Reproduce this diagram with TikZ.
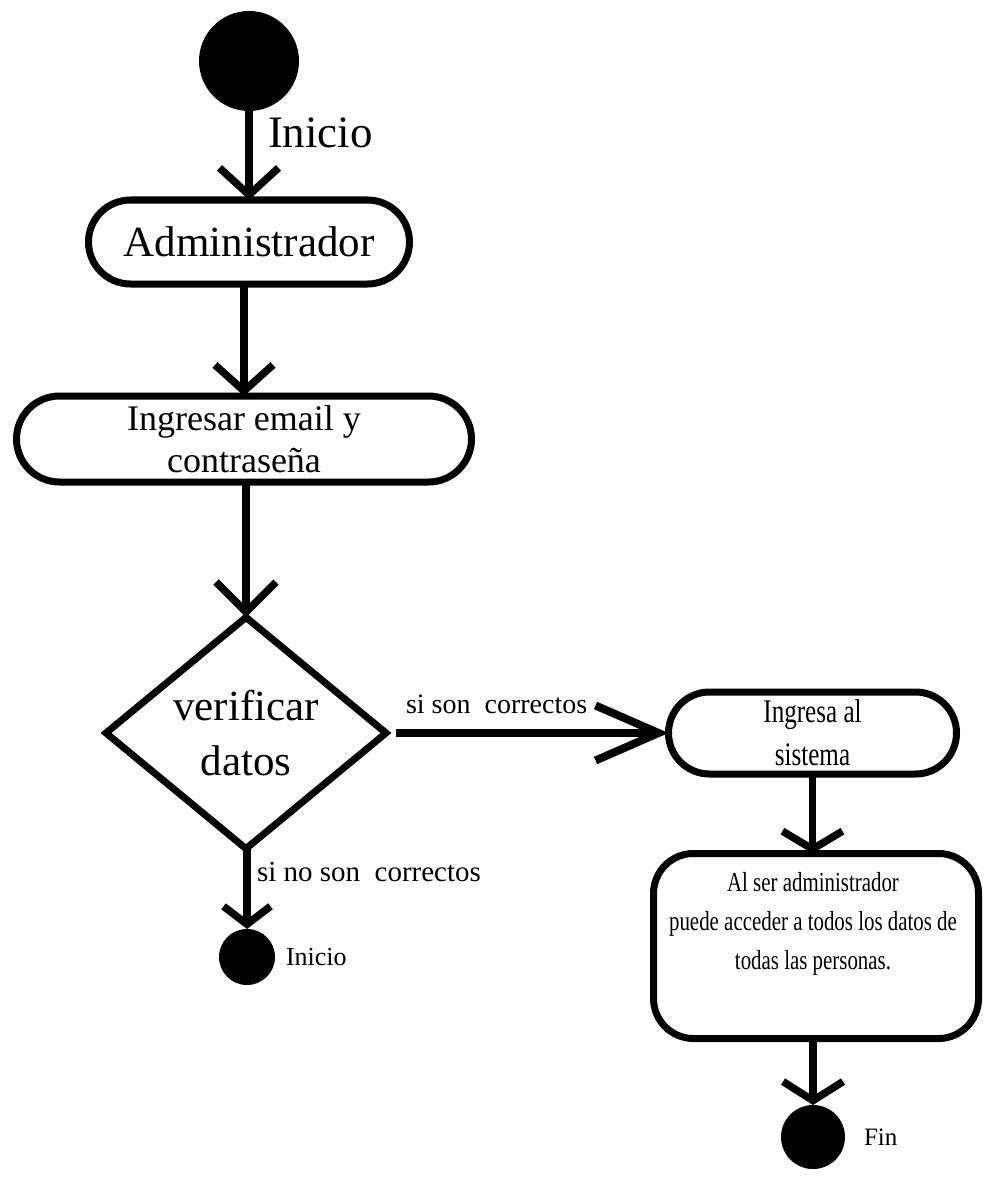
\documentclass[tikz,border=0pt]{standalone}
\usepackage{fontspec}
\setmainfont{Liberation Serif}
\newfontfamily\narrowserif[FakeStretch=0.76]{Liberation Serif}
\usetikzlibrary{shapes.geometric,arrows.meta}
\newcommand{\fsz}[1]{\fontsize{#1}{1.2\dimexpr#1pt\relax}\selectfont}
\begin{document}
\begin{tikzpicture}[x=1pt,y=-1pt,
  every node/.style={inner sep=0pt, outer sep=0pt, text=black},
  dot/.style={circle, fill=black, draw=none, minimum size=#1},
  activity/.style={draw=black, fill=white, line width=7pt, rounded corners=#1, align=center},
  decision/.style={diamond, draw=black, fill=white, line width=7pt, align=center},
  flow/.style args={#1/#2}{draw=black, line width=7.5pt, -{Straight Barb[length=#1, width=#2]}},
  lbl/.style={anchor=west, font=\fsz{#1}}
]
  % page
  \fill[white] (0,0) rectangle (987,1177);
  \useasboundingbox (0,0) rectangle (987,1177);

  % left column
  \node[dot=100pt] (start) at (249,61) {};
  \node[activity=42pt, minimum width=321pt, minimum height=84pt,
        font=\fsz{43}] (admin) at (249,242) {Administrador};
  \node[activity=43pt, minimum width=455pt, minimum height=86pt,
        font=\fontsize{36}{42}\selectfont] (login) at (244,439)
        {Ingresar email y\\contraseña};
  \node[decision, minimum width=280pt, minimum height=216pt,
        font=\fontsize{43}{55}\selectfont] (check) at (246,733)
        {verificar\\datos};
  \node[dot=56pt] (retry) at (247,957) {};

  % right column
  \node[activity=41pt, minimum width=288pt, minimum height=82pt,
        font=\narrowserif\fontsize{33}{43}\selectfont] (enter) at (812.5,733)
        {Ingresa al\\sistema};
  \node[activity=40pt, minimum width=325pt, minimum height=185pt] (access) at (816,946) {};
  \node[align=center, font=\narrowserif\fontsize{27.5}{39}\selectfont] (accesstext) at (813,924)
        {Al ser administrador\\puede acceder a todos los datos de\\todas las personas.};
  \node[dot=64pt] (finish) at (813,1137) {};

  % transitions
  \draw[flow=27pt/59pt] (start.south) -- (admin.north);
  \draw[flow=26pt/58pt] (login.north |- admin.south) -- (login.north);
  \draw[flow=30pt/60pt] (check.north |- login.south) -- (check.north);
  \draw[flow=63pt/55pt, line width=8pt, shorten <=10pt] (check.east) -- (check.east -| enter.west);
  \draw[flow=18pt/60pt] (enter.south) -- (enter.south |- access.north);
  \draw[flow=19pt/60pt] (finish.north |- access.south) -- (finish.north);
  \draw[flow=18pt/47pt] (retry.north |- check.south) -- (retry.north);

  % labels
  \node[lbl=45] (startlabel) at (268,133) {Inicio};
  \node[lbl=28] (yeslabel) at (406,704) {si son~~correctos};
  \node[lbl=29] (nolabel) at (257,872) {si no son~~correctos};
  \node[lbl=26] (retrylabel) at (286,957) {Inicio};
  \node[lbl=25] (finishlabel) at (864,1137) {Fin};
\end{tikzpicture}
\end{document}
